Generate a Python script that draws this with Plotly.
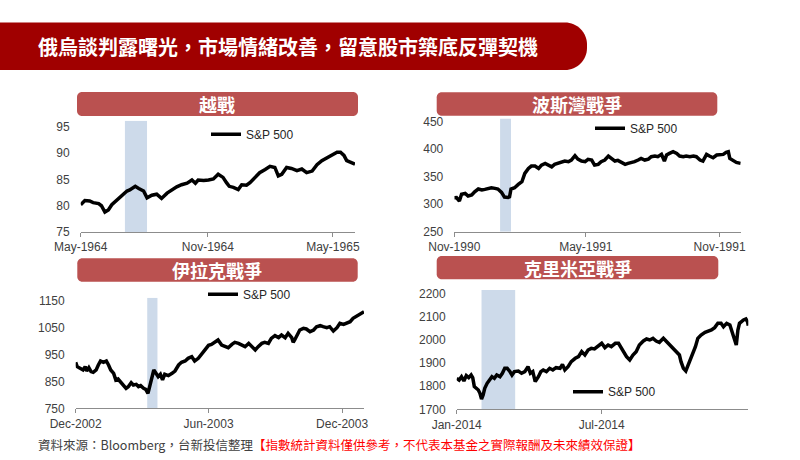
import plotly.graph_objects as go

# ---------------- data ----------------
vn_dates = ["1964-05-01","1964-05-07","1964-05-14","1964-05-19","1964-05-27","1964-05-31","1964-06-05","1964-06-10","1964-06-15","1964-06-22","1964-06-29","1964-07-07","1964-07-11","1964-07-19","1964-07-24","1964-07-31","1964-08-05","1964-08-12","1964-08-19","1964-08-26","1964-09-03","1964-09-10","1964-09-17","1964-09-24","1964-10-02","1964-10-09","1964-10-14","1964-10-18","1964-10-26","1964-11-02","1964-11-09","1964-11-16","1964-11-23","1964-11-28","1964-12-02","1964-12-08","1964-12-15","1964-12-20","1964-12-27","1965-01-01","1965-01-08","1965-01-15","1965-01-23","1965-01-30","1965-02-06","1965-02-11","1965-02-16","1965-02-23","1965-03-02","1965-03-10","1965-03-17","1965-03-24","1965-04-01","1965-04-08","1965-04-15","1965-04-22","1965-04-30","1965-05-07","1965-05-12","1965-05-17","1965-05-21","1965-05-26","1965-06-02"]
vn_spx = [80.2,81.0,80.9,80.6,80.4,80.0,78.8,79.2,80.2,81.0,81.8,82.8,83.0,83.7,83.3,82.8,81.5,82.0,82.2,81.4,82.4,83.0,83.6,84.0,84.3,84.9,84.3,84.9,84.8,84.9,85.1,86.0,85.4,84.4,83.7,83.5,83.1,84.0,83.9,84.4,85.4,86.3,86.9,87.5,87.3,85.7,86.0,87.3,87.1,86.7,87.0,86.3,86.6,87.8,88.6,89.1,89.6,90.2,90.2,89.6,88.6,88.3,87.9]

gulf_dates = ["1990-11-01","1990-11-04","1990-11-08","1990-11-11","1990-11-16","1990-11-20","1990-11-25","1990-11-29","1990-12-04","1990-12-09","1990-12-13","1990-12-18","1990-12-22","1990-12-27","1990-12-31","1991-01-05","1991-01-09","1991-01-14","1991-01-16","1991-01-18","1991-01-23","1991-01-28","1991-02-02","1991-02-06","1991-02-11","1991-02-15","1991-02-20","1991-02-25","1991-03-01","1991-03-06","1991-03-10","1991-03-15","1991-03-19","1991-03-24","1991-03-29","1991-04-02","1991-04-07","1991-04-11","1991-04-16","1991-04-20","1991-04-25","1991-04-30","1991-05-04","1991-05-09","1991-05-13","1991-05-18","1991-05-22","1991-05-27","1991-06-01","1991-06-05","1991-06-10","1991-06-14","1991-06-19","1991-06-24","1991-06-28","1991-07-03","1991-07-07","1991-07-12","1991-07-16","1991-07-21","1991-07-26","1991-07-30","1991-08-04","1991-08-08","1991-08-13","1991-08-17","1991-08-20","1991-08-24","1991-08-29","1991-09-03","1991-09-07","1991-09-12","1991-09-16","1991-09-21","1991-09-26","1991-09-30","1991-10-05","1991-10-09","1991-10-14","1991-10-18","1991-10-23","1991-10-28","1991-11-01","1991-11-06","1991-11-10","1991-11-13","1991-11-15","1991-11-20","1991-11-24","1991-11-30"]
gulf_spx = [311.8,312.0,305.8,318.0,319.7,315.0,316.7,322.7,327.6,325.8,327.0,328.8,330.0,328.8,327.6,321.5,313.0,312.4,313.6,327.6,330.0,336.0,340.9,356.0,365.0,369.4,369.4,365.0,371.0,374.2,371.0,368.0,372.4,374.2,377.3,378.5,377.3,380.3,388.2,382.0,378.5,377.3,381.5,380.3,371.2,372.4,377.3,380.3,387.6,383.3,378.5,379.7,376.0,372.4,374.2,375.5,377.3,380.3,383.3,380.3,382.0,386.4,387.6,386.4,390.6,378.5,389.4,392.4,395.5,392.4,387.6,386.4,387.6,386.4,387.6,386.4,380.3,378.5,390.6,387.6,384.5,389.4,389.4,390.6,394.2,395.5,383.3,378.5,376.0,374.2]

iraq_dates = ["2002-12-01","2002-12-03","2002-12-07","2002-12-11","2002-12-14","2002-12-16","2002-12-19","2002-12-22","2002-12-25","2002-12-29","2003-01-01","2003-01-04","2003-01-08","2003-01-12","2003-01-15","2003-01-18","2003-01-22","2003-01-25","2003-01-28","2003-02-01","2003-02-04","2003-02-08","2003-02-11","2003-02-15","2003-02-18","2003-02-22","2003-02-25","2003-02-28","2003-03-04","2003-03-07","2003-03-10","2003-03-12","2003-03-15","2003-03-18","2003-03-21","2003-03-24","2003-03-27","2003-03-30","2003-04-02","2003-04-07","2003-04-12","2003-04-16","2003-04-21","2003-04-25","2003-04-30","2003-05-04","2003-05-09","2003-05-13","2003-05-18","2003-05-23","2003-05-27","2003-06-01","2003-06-05","2003-06-10","2003-06-14","2003-06-19","2003-06-24","2003-06-28","2003-07-03","2003-07-07","2003-07-12","2003-07-16","2003-07-21","2003-07-26","2003-07-30","2003-08-04","2003-08-08","2003-08-13","2003-08-17","2003-08-22","2003-08-26","2003-08-31","2003-09-05","2003-09-09","2003-09-14","2003-09-18","2003-09-23","2003-09-25","2003-09-27","2003-10-01","2003-10-04","2003-10-09","2003-10-13","2003-10-18","2003-10-23","2003-10-27","2003-11-01","2003-11-05","2003-11-10","2003-11-14","2003-11-19","2003-11-24","2003-11-28","2003-12-03","2003-12-07","2003-12-12","2003-12-16","2003-12-21","2003-12-25","2003-12-31"]
iraq_spx = [921.4,905.3,899.0,892.9,905.3,889.1,901.6,886.7,884.2,892.9,911.5,926.4,921.4,926.4,911.5,892.9,880.4,855.6,859.3,845.7,837.0,824.5,830.7,845.7,837.0,839.4,830.7,834.6,824.5,820.8,805.9,830.7,861.8,892.9,880.4,868.0,876.7,855.6,876.7,871.7,880.4,889.1,911.5,921.4,926.4,936.3,942.5,926.4,936.3,955.0,967.4,984.8,988.5,995.9,1004.7,986.0,979.8,976.0,988.5,995.9,992.2,986.0,979.8,992.2,979.8,967.4,979.8,992.2,995.9,992.2,1010.9,1020.8,1013.4,1023.3,1013.4,1029.5,1013.4,995.9,1004.7,1029.5,1041.9,1048.1,1045.7,1035.7,1041.9,1054.3,1058.0,1054.3,1050.6,1054.3,1038.2,1050.6,1066.8,1063.0,1066.8,1073.0,1085.4,1094.1,1100.3,1110.2]

crimea_dates = ["2014-01-01","2014-01-04","2014-01-07","2014-01-10","2014-01-13","2014-01-16","2014-01-19","2014-01-21","2014-01-23","2014-01-25","2014-01-28","2014-01-30","2014-02-01","2014-02-03","2014-02-05","2014-02-08","2014-02-11","2014-02-14","2014-02-17","2014-02-20","2014-02-24","2014-02-27","2014-03-02","2014-03-05","2014-03-08","2014-03-11","2014-03-14","2014-03-19","2014-03-23","2014-03-27","2014-03-31","2014-04-03","2014-04-06","2014-04-09","2014-04-13","2014-04-16","2014-04-19","2014-04-23","2014-04-27","2014-05-01","2014-05-05","2014-05-10","2014-05-13","2014-05-16","2014-05-20","2014-05-24","2014-05-29","2014-06-02","2014-06-06","2014-06-10","2014-06-14","2014-06-18","2014-06-22","2014-06-26","2014-07-01","2014-07-05","2014-07-09","2014-07-13","2014-07-18","2014-07-22","2014-07-26","2014-07-29","2014-08-01","2014-08-05","2014-08-09","2014-08-13","2014-08-17","2014-08-22","2014-08-26","2014-08-30","2014-09-03","2014-09-07","2014-09-11","2014-09-16","2014-09-20","2014-09-24","2014-09-28","2014-10-02","2014-10-06","2014-10-08","2014-10-11","2014-10-14","2014-10-17","2014-10-20","2014-10-23","2014-10-26","2014-10-29","2014-11-02","2014-11-07","2014-11-11","2014-11-15","2014-11-19","2014-11-23","2014-11-27","2014-11-30","2014-12-04","2014-12-08","2014-12-10","2014-12-13","2014-12-16","2014-12-18","2014-12-20","2014-12-25","2014-12-28","2014-12-30","2014-12-31"]
crimea_spx = [1833.6,1826.4,1840.8,1822.1,1845.1,1836.5,1848.0,1836.5,1797.7,1790.5,1783.3,1769.0,1744.5,1761.8,1790.5,1812.1,1826.4,1840.8,1833.6,1848.0,1840.8,1855.2,1876.7,1876.7,1865.2,1848.0,1862.4,1865.2,1855.2,1862.4,1883.9,1855.2,1862.4,1819.3,1840.8,1862.4,1869.5,1862.4,1876.7,1869.5,1879.6,1876.7,1893.9,1869.5,1883.9,1905.5,1919.8,1927.0,1948.6,1934.2,1955.7,1962.9,1960.1,1970.1,1984.5,1965.8,1977.3,1970.1,1984.5,1984.5,1962.9,1941.4,1927.0,1912.6,1934.2,1948.6,1977.3,1994.5,2003.2,1998.9,2006.0,1994.5,1988.8,2006.0,1991.7,1977.3,1965.8,1948.6,1934.2,1905.5,1876.7,1865.2,1891.0,1919.8,1941.4,1970.1,2006.0,2020.4,2031.9,2037.6,2041.9,2052.0,2070.7,2070.7,2056.3,2070.7,2063.5,2041.9,2006.0,1977.3,2041.9,2070.7,2085.0,2089.4,2077.9,2060.6]

panel_titles = ["越戰", "波斯灣戰爭", "伊拉克戰爭", "克里米亞戰爭"]
series_name = "S&P 500"

x_ranges = [["1964-05-01", "1965-06-02"], ["1990-11-01", "1991-11-30"],
            ["2002-12-01", "2003-12-31"], ["2014-01-01", "2014-12-31"]]
x_tickvals = [["1964-05-01", "1964-11-01", "1965-05-01"],
              ["1990-11-01", "1991-05-01", "1991-11-01"],
              ["2002-12-01", "2003-06-01", "2003-12-01"],
              ["2014-01-01", "2014-07-01"]]
y_ranges = [[75, 96.2], [250, 456], [750, 1162.4], [1700, 2214.4]]
y_tickvals = [[75, 80, 85, 90, 95], [250, 300, 350, 400, 450],
              [750, 850, 950, 1050, 1150], [1700, 1800, 1900, 2000, 2100, 2200]]
war_bands = [["1964-07-04", "1964-08-05"], ["1991-01-03", "1991-01-18"],
             ["2003-03-09", "2003-03-23"], ["2014-02-01", "2014-03-15"]]

title_text = "俄烏談判露曙光，市場情緒改善，留意股市築底反彈契機"
source_text = "資料來源：Bloomberg，台新投信整理"
disclaimer_text = "【指數統計資料僅供參考，不代表本基金之實際報酬及未來績效保證】"

# ---------------- layout helpers ----------------
W, H = 800, 460
def fx(x): return x / W
def fy(y): return 1 - y / H

def rrect(x0, y0, x1, y1, rl, rr):
    k = 0.5523
    p = []
    p.append(f"M{fx(x0+rl)},{fy(y0)}")
    p.append(f"L{fx(x1-rr)},{fy(y0)}")
    if rr > 0:
        p.append(f"C{fx(x1-rr+k*rr)},{fy(y0)} {fx(x1)},{fy(y0+rr-k*rr)} {fx(x1)},{fy(y0+rr)}")
    p.append(f"L{fx(x1)},{fy(y1-rr)}")
    if rr > 0:
        p.append(f"C{fx(x1)},{fy(y1-rr+k*rr)} {fx(x1-rr+k*rr)},{fy(y1)} {fx(x1-rr)},{fy(y1)}")
    p.append(f"L{fx(x0+rl)},{fy(y1)}")
    if rl > 0:
        p.append(f"C{fx(x0+rl-k*rl)},{fy(y1)} {fx(x0)},{fy(y1-rl+k*rl)} {fx(x0)},{fy(y1-rl)}")
    p.append(f"L{fx(x0)},{fy(y0+rl)}")
    if rl > 0:
        p.append(f"C{fx(x0)},{fy(y0+rl-k*rl)} {fx(x0+rl-k*rl)},{fy(y0)} {fx(x0+rl)},{fy(y0)}")
    p.append("Z")
    return " ".join(p)

# plot areas in pixels: (x0, x1, ytop, ybottom)
areas = [(80.7, 355.0, 120.7, 232.0),
         (454.3, 740.7, 118.4, 231.7),
         (75.7, 364.0, 297.7, 408.3),
         (456.7, 748.3, 290.0, 409.3)]
headers = [(77, 92, 358, 116), (436.7, 92.3, 717.3, 115.7),
           (77.3, 258.3, 357.7, 281.7), (436.7, 256, 718.3, 279.3)]
legend_pos = [(206, 134.3), (590, 128.3), (203, 294.3), (568, 391.7)]

tick_font = dict(family="Liberation Sans, Arial, sans-serif", size=12, color="#404040")
cjk = "Noto Sans CJK TC, Noto Sans CJK SC, sans-serif"

fig = go.Figure()
all_dates = [vn_dates, gulf_dates, iraq_dates, crimea_dates]
all_vals = [vn_spx, gulf_spx, iraq_spx, crimea_spx]

shapes = []
annotations = []
layout_extra = {}

for i in range(4):
    sfx = "" if i == 0 else str(i + 1)
    xa, ya = "x" + sfx, "y" + sfx
    lg = "legend" + sfx
    fig.add_trace(go.Scatter(x=all_dates[i], y=all_vals[i], mode="lines",
                             name=series_name, xaxis=xa, yaxis=ya, legend=lg,
                             line=dict(color="black", width=3.5)))
    x0, x1, yt, yb = areas[i]
    layout_extra["xaxis" + sfx] = dict(
        domain=[fx(x0), fx(x1)], anchor=ya, type="date", range=x_ranges[i],
        tickvals=x_tickvals[i], tickformat="%b-%Y", showgrid=False, zeroline=False,
        showline=True, linecolor="#8C8C8C", linewidth=1, ticks="outside",
        ticklen=4, tickcolor="#8C8C8C", tickfont=tick_font, automargin=False)
    layout_extra["yaxis" + sfx] = dict(
        domain=[fy(yb), fy(yt)], anchor=xa, range=y_ranges[i],
        tickvals=y_tickvals[i], showgrid=False, zeroline=False, showline=False,
        ticks="", tickfont=tick_font, ticklabelstandoff=10, automargin=False)
    lx, ly = legend_pos[i]
    layout_extra[lg] = dict(x=fx(lx), y=fy(ly), xanchor="left", yanchor="middle",
                            bgcolor="rgba(0,0,0,0)", borderwidth=0,
                            font=dict(family="Liberation Sans, Arial, sans-serif",
                                      size=12, color="#262626"))
    shapes.append(dict(type="rect", xref=xa, yref=ya, x0=war_bands[i][0],
                       x1=war_bands[i][1], y0=y_ranges[i][0], y1=y_ranges[i][1],
                       fillcolor="#CDDAEA", line=dict(width=0), layer="below"))
    hx0, hy0, hx1, hy1 = headers[i]
    shapes.append(dict(type="path", xref="paper", yref="paper",
                       path=rrect(hx0, hy0, hx1, hy1, 5, 5),
                       fillcolor="#BA5150", line=dict(width=0)))
    annotations.append(dict(x=fx((hx0 + hx1) / 2), y=fy((hy0 + hy1) / 2),
                            xref="paper", yref="paper", showarrow=False,
                            text="<b>" + panel_titles[i] + "</b>",
                            font=dict(family=cjk, size=18, color="white"),
                            xanchor="center", yanchor="middle"))

# title banner
shapes.append(dict(type="path", xref="paper", yref="paper",
                   path=rrect(0, 22.5, 587, 70, 0, 22),
                   fillcolor="#A00000", line=dict(width=0)))
annotations.append(dict(x=fx(36), y=fy(47), xref="paper", yref="paper",
                        showarrow=False, text="<b>" + title_text + "</b>",
                        font=dict(family=cjk, size=20, color="white"),
                        xanchor="left", yanchor="middle"))
annotations.append(dict(x=fx(36), y=fy(444), xref="paper", yref="paper",
                        showarrow=False,
                        text=source_text + "<span style='color:#FF0000'>" + disclaimer_text + "</span>",
                        font=dict(family=cjk, size=12.5, color="#404040"),
                        xanchor="left", yanchor="middle"))

fig.update_layout(width=W, height=H, margin=dict(l=0, r=0, t=0, b=0, pad=0),
                  autosize=False,
                  paper_bgcolor="white", plot_bgcolor="white",
                  showlegend=True, shapes=shapes, annotations=annotations,
                  **layout_extra)

fig.write_html("out.html")
